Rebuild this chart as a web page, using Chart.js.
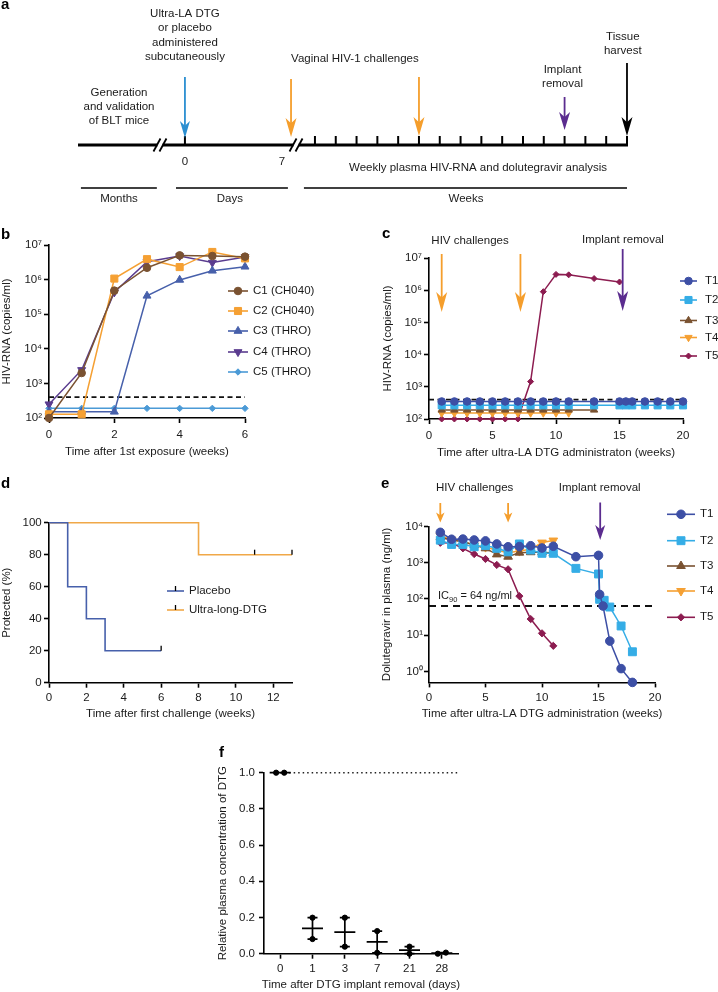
<!DOCTYPE html>
<html><head><meta charset="utf-8">
<script src="https://cdn.jsdelivr.net/npm/chart.js@4.4.1/dist/chart.umd.min.js"></script>
<style>
html,body{margin:0;padding:0;background:#fff;}
body{width:718px;height:992px;position:relative;overflow:hidden;font-family:'Liberation Sans',Arial,Helvetica,sans-serif;}
.pn{position:absolute;}
.pn canvas{display:block;}
.lbl{position:absolute;font-weight:bold;font-size:15px;line-height:15px;color:#000;}
</style></head><body>
<div class="pn" style="left:0;top:0;width:718px;height:222px"><canvas id="ca" width="718" height="222"></canvas></div>
<div class="pn" style="left:0;top:225px;width:358px;height:245px"><canvas id="cb" width="358" height="245"></canvas></div>
<div class="pn" style="left:358px;top:225px;width:360px;height:245px"><canvas id="cc" width="360" height="245"></canvas></div>
<div class="pn" style="left:0;top:470px;width:358px;height:250px"><canvas id="cd" width="358" height="250"></canvas></div>
<div class="pn" style="left:358px;top:470px;width:360px;height:250px"><canvas id="ce" width="360" height="250"></canvas></div>
<div class="pn" style="left:180px;top:740px;width:300px;height:252px"><canvas id="cf" width="300" height="252"></canvas></div>
<div class="lbl" style="left:1px;top:-4px">a</div>
<div class="lbl" style="left:1px;top:226px">b</div>
<div class="lbl" style="left:382px;top:225px">c</div>
<div class="lbl" style="left:1px;top:475px">d</div>
<div class="lbl" style="left:381px;top:475px">e</div>
<div class="lbl" style="left:219px;top:744px">f</div>
<script>
// ================= DATA =================
// Panel a: weekly sampling ticks (week index after the second break)
const aWeekTicks = [0,1,2,3,4,5,6,7,8,9,10,11,12,13,14,15];

// Panel b: HIV-RNA (copies/ml) in control mice
const bWeeks = [0,1,2,3,4,5,6];
const bC1 = [100, 2000, 480000, 2200000, 5000000, 4800000, 4600000];
const bC2 = [128, 128, 1070000, 3900000, 2300000, 6300000, 4100000];
const bC3 = [151, 151, 151, 340000, 980000, 1800000, 2350000];
const bC4 = [250, 2450, 430000, 3300000, 4800000, 3100000, 4500000];
const bC5 = [190, 190, 190, 190, 190, 190, 190];
const bLimit = 400;
const bXTicks = [0,2,4,6];
const logTicksRNA = [1e2,1e3,1e4,1e5,1e6,1e7];

// Panel c: HIV-RNA in treated mice
const cT1Weeks = [1,2,3,4,5,6,7,8,9,10,11,13,15,15.5,16,17,18,19,20];
const cT1 = [350,350,350,350,350,350,350,350,350,350,350,350,350,350,350,350,350,350,350];
const cT2Weeks = [1,2,3,4,5,6,7,8,9,10,11,13,15,15.5,16,17,18,19,20];
const cT2 = [265,265,265,265,265,265,265,265,265,265,265,265,265,265,265,265,265,265,265];
const cT3Weeks = [1,2,3,4,5,6,7,8,9,10,11,13];
const cT3 = [190,190,190,190,190,190,190,190,190,190,190,190];
const cT4Weeks = [1,2,3,4,5,6,7,8,9,10,11];
const cT4 = [153,153,153,153,153,153,153,153,153,153,153];
const cT5Weeks = [1,2,3,4,5,6,7,8,9,10,11,13,15];
const cT5 = [100,100,100,100,100,100,100,1450,900000,3100000,3000000,2300000,1800000];
const cLimit = 400;
const cXTicks = [0,5,10,15,20];
const cChallengeWeeks = [1, 7.2];
const cRemovalWeek = 15.25;

// Panel d: Kaplan-Meier protection
const dPlaceboT = [0,1,2,3,6];
const dPlaceboS = [100,60,40,20,20];
const dPlaceboCensorT = [6];
const dPlaceboCensorS = [20];
const dDtgT = [0,8,13];
const dDtgS = [100,80,80];
const dDtgCensorT = [11,13];
const dDtgCensorS = [80,80];
const dXTicks = [0,2,4,6,8,10,12];
const dYTicks = [0,20,40,60,80,100];

// Panel e: dolutegravir in plasma (ng/ml)
const eT1Weeks = [1,2,3,4,5,6,7,8,9,10,11,13,15,15.1,15.4,16,17,18];
const eT1 = [6900,4450,4500,4250,4000,3300,2760,2800,2950,2550,2850,1470,1600,134,64,6.9,1.2,0.5];
const eT2Weeks = [1,2,3,4,5,6,7,8,9,10,11,13,15,15.1,15.5,16,17,18];
const eT2 = [4200,3200,3200,2760,3000,2500,2000,3300,2240,1820,1820,700,490,98,92,60,18,3.5];
const eT3Weeks = [1,2,3,4,5,6,7,8,9,10,11];
const eT3 = [5000,4250,3800,3100,2500,1700,1470,1900,1950,1950,1850];
const eT4Weeks = [1,2,3,4,5,6,7,8,9,10,11];
const eT4 = [5600,4300,4000,3000,2700,2200,1900,2100,2350,3600,4100];
const eT5Weeks = [1,2,3,4,5,6,7,8,9,10,11];
const eT5 = [3550,3500,2500,1740,1270,870,660,120,28,11.3,5.1];
const eIC90 = 64;
const eXTicks = [0,5,10,15,20];
const eYTicks = [1,10,100,1000,10000];
const eChallengeWeeks = [1, 7];
const eRemovalWeek = 15.15;

// Panel f: relative plasma concentration after implant removal
const fDays = ['0','1','3','7','21','28'];
const fMouseA = [1.0, 0.199, 0.199, 0.125, 0.039, 0.0];
const fMouseB = [1.0, 0.081, 0.039, 0.005, 0.0, 0.006];
const fYTicks = [0,0.2,0.4,0.6,0.8,1.0];

// ================= STYLE / HELPERS =================
const FONT = "'Liberation Sans', Arial, Helvetica, sans-serif";
Chart.defaults.font.family = FONT;
Chart.defaults.font.size = 11.5;
Chart.defaults.color = '#1a1a1a';
Chart.defaults.animation = false;

const COL = {
  brown:'#7a5231', orange:'#f5a033', blue:'#4760ab', purple:'#5a3c8f', sky:'#4b9ad6',
  navy:'#3d4fa5', cyan:'#35ade6', crimson:'#8c1c50', arrowBlue:'#2b8fd1', arrowOrange:'#f59e2c',
  arrowPurple:'#5b2c8f', dOrange:'#f0a848'
};

const SUP = {'0':'⁰','1':'¹','2':'²','3':'³','4':'⁴','5':'⁵','6':'⁶','7':'⁷','8':'⁸','9':'⁹','-':'⁻'};
function pow10Label(v){ const e = Math.round(Math.log10(v)); return '10' + String(e).split('').map(c=>SUP[c]).join(''); }
function setTicks(vals){ return s => { s.ticks = vals.map(v=>({value:v})); }; }
function pts(xs, ys){ return xs.map((x,i)=>({x:x, y:ys[i]})); }

function axis(o) {
  const a = {
    border:{display:true, color:'#000', width:1.6},
    grid:{display:true, drawOnChartArea:false, drawTicks:true, tickLength:5, tickWidth:1.6, tickColor:'#000'},
    ticks:{color:'#1a1a1a', font:{size:11.5}, autoSkip:false, maxRotation:0, minRotation:0, padding:o.pad},
    title:{display:false}
  };
  a.type = o.type; a.min = o.min; a.max = o.max;
  a.afterBuildTicks = setTicks(o.ticks);
  if (o.cb) a.ticks.callback = o.cb;
  if (o.w !== undefined) a.afterFit = s => { s.width = o.w; };
  if (o.h !== undefined) a.afterFit = s => { s.height = o.h; };
  return a;
}

function marker(ctx, style, x, y, r, rot, color) {
  ctx.save(); ctx.fillStyle = color; ctx.strokeStyle = color; ctx.lineWidth = 1;
  ctx.beginPath();
  let rad = (rot||0) * Math.PI/180;
  if (style === 'circle') ctx.arc(x,y,r,0,Math.PI*2);
  else if (style === 'rect') { const s = r*Math.SQRT1_2; ctx.rect(x-s,y-s,2*s,2*s); }
  else if (style === 'triangle') {
    for (let k=0;k<3;k++){ const px = x + Math.sin(rad)*r, py = y - Math.cos(rad)*r; if(k===0) ctx.moveTo(px,py); else ctx.lineTo(px,py); rad += 2*Math.PI/3; }
    ctx.closePath();
  } else if (style === 'rectRot') { ctx.moveTo(x-r,y); ctx.lineTo(x,y-r); ctx.lineTo(x+r,y); ctx.lineTo(x,y+r); ctx.closePath(); }
  ctx.fill(); ctx.stroke(); ctx.restore();
}

function arrow(ctx, x, y1, y2, color, hl, hw, lw) {
  ctx.save(); ctx.strokeStyle = color; ctx.fillStyle = color; ctx.lineWidth = lw;
  ctx.beginPath(); ctx.moveTo(x, y1); ctx.lineTo(x, y2 - hl*0.5); ctx.stroke();
  ctx.beginPath(); ctx.moveTo(x, y2); ctx.lineTo(x - hw/2, y2 - hl); ctx.lineTo(x, y2 - hl*0.72); ctx.lineTo(x + hw/2, y2 - hl); ctx.closePath(); ctx.fill();
  ctx.restore();
}

function text(ctx, s, x, y, align, size) {
  ctx.save(); ctx.fillStyle = '#1a1a1a'; ctx.font = (size||11.5) + 'px ' + FONT;
  ctx.textAlign = align || 'center'; ctx.textBaseline = 'middle'; ctx.fillText(s, x, y); ctx.restore();
}

function makeExtras(cfg) {
  return {
    id: 'extras',
    afterDatasetsDraw(chart) {
      const ctx = chart.ctx, ca = chart.chartArea;
      const X = chart.scales.x, Y = chart.scales.y;
      ctx.save();
      if (cfg.draw) cfg.draw(chart, ctx, X, Y);
      if (cfg.legend) {
        const L = cfg.legend;
        L.items.forEach((it, i) => {
          const y = L.rows[i];
          ctx.save(); ctx.strokeStyle = it.color; ctx.lineWidth = 1.6;
          ctx.beginPath(); ctx.moveTo(L.x1, y); ctx.lineTo(L.x2, y); ctx.stroke(); ctx.restore();
          const cx = (L.x1 + L.x2)/2;
          if (it.style === 'censor') {
            ctx.save(); ctx.strokeStyle = '#000'; ctx.lineWidth = 1.3;
            ctx.beginPath(); ctx.moveTo(cx, y); ctx.lineTo(cx, y-5); ctx.stroke(); ctx.restore();
          } else marker(ctx, it.style, cx, y, it.r * (L.scale||1), it.rot, it.color);
          text(ctx, it.label, L.tx, y, 'left');
        });
      }
      if (cfg.xTitle) text(ctx, cfg.xTitle.text, (ca.left+ca.right)/2, cfg.xTitle.y, 'center');
      if (cfg.yTitle) {
        ctx.save(); ctx.translate(cfg.yTitle.x, (ca.top+ca.bottom)/2); ctx.rotate(-Math.PI/2);
        text(ctx, cfg.yTitle.text, 0, 0, 'center'); ctx.restore();
      }
      ctx.restore();
    }
  };
}

function series(label, xs, ys, st) {
  return {
    label: label, data: pts(xs, ys), borderColor: st.color, backgroundColor: st.color, borderWidth: 1.5,
    pointStyle: st.style, pointRadius: st.r, pointHoverRadius: st.r, pointRotation: st.rot||0,
    pointBackgroundColor: st.color, pointBorderColor: st.color, pointBorderWidth: 1,
    tension: 0, clip: false, fill: false
  };
}
function refLine(x0, x1, y, dash, color, w) {
  return { label: '', data: [{x:x0,y:y},{x:x1,y:y}], borderColor: color||'#111', borderWidth: w||1.6,
    borderDash: dash, pointRadius: 0, pointHoverRadius: 0, tension: 0, clip: false, fill: false };
}
function baseOpts(padding, scales) {
  return { responsive:false, maintainAspectRatio:false, animation:false, events:[],
    layout:{padding: padding}, plugins:{legend:{display:false}, tooltip:{enabled:false}, title:{display:false}},
    scales: scales };
}

// ================= PANEL a =================
(function(){
  // diagram units: 1 unit = one weekly tick spacing; 0 = first weekly tick
  const L = {
    lineY:145, tickTop:136, periodY:188, periodLabelY:199,
    start:-11.39, end:15, breaks:[-7.45,-0.91], day0:-6.25, day7:-1.15,
    challengeWeek:5, removalWeek:12, harvestWeek:15,
    months:[-11.25,-7.6], days:[-6.68,-1.3], weeks:[-0.53,15]
  };
  function draw(chart, ctx, X, Y) {
    const px = v => X.getPixelForValue(v), py = v => Y.getPixelForValue(v);
    ctx.strokeStyle = '#000'; ctx.lineCap = 'butt';
    ctx.lineWidth = 3;
    ctx.beginPath(); ctx.moveTo(px(L.start), py(L.lineY)); ctx.lineTo(px(L.end)+1, py(L.lineY)); ctx.stroke();
    ctx.lineWidth = 2;
    [L.day0].concat(aWeekTicks).forEach(u => {
      ctx.beginPath(); ctx.moveTo(px(u), py(L.tickTop)); ctx.lineTo(px(u), py(L.lineY)); ctx.stroke();
    });
    L.breaks.forEach(b => {
      const x = px(b), y = py(L.lineY);
      ctx.fillStyle = '#fff'; ctx.fillRect(x-2.6, y-3, 5.2, 6);
      ctx.strokeStyle = '#000'; ctx.lineWidth = 1.8;
      [-3,3].forEach(d => { ctx.beginPath(); ctx.moveTo(x+d-3.5, y+6.5); ctx.lineTo(x+d+3.5, y-6.5); ctx.stroke(); });
    });
    arrow(ctx, px(L.day0), py(77), py(138), COL.arrowBlue, 17, 10, 1.8);
    arrow(ctx, px(L.day7), py(79), py(137), COL.arrowOrange, 19, 11, 1.8);
    arrow(ctx, px(L.challengeWeek), py(77), py(136), COL.arrowOrange, 19, 11, 1.8);
    arrow(ctx, px(L.removalWeek), py(97), py(130), COL.arrowPurple, 18, 11, 1.8);
    arrow(ctx, px(L.harvestWeek), py(63), py(136), '#000', 19, 11, 1.8);
    ctx.lineWidth = 1.6; ctx.strokeStyle = '#000';
    [L.months, L.days, L.weeks].forEach(s => { ctx.beginPath(); ctx.moveTo(px(s[0]), py(L.periodY)); ctx.lineTo(px(s[1]), py(L.periodY)); ctx.stroke(); });
    ['Ultra-LA DTG','or placebo','administered','subcutaneously'].forEach((s,i)=>text(ctx, s, px(L.day0), py(14+i*14.3)));
    ['Generation','and validation','of BLT mice'].forEach((s,i)=>text(ctx, s, px(-9.42), py(93+i*14)));
    text(ctx, 'Vaginal HIV-1 challenges', px(1.92), py(59));
    ['Implant','removal'].forEach((s,i)=>text(ctx, s, px(11.9), py(70+i*14)));
    ['Tissue','harvest'].forEach((s,i)=>text(ctx, s, px(14.8), py(37+i*14)));
    text(ctx, '0', px(L.day0), py(162));
    text(ctx, '7', px(-1.59), py(162));
    text(ctx, 'Weekly plasma HIV-RNA and dolutegravir analysis', px(7.84), py(168));
    text(ctx, 'Months', px(-9.42), py(L.periodLabelY));
    text(ctx, 'Days', px(-4.09), py(L.periodLabelY));
    text(ctx, 'Weeks', px(7.26), py(L.periodLabelY));
  }
  new Chart(document.getElementById('ca'), {
    type:'scatter', data:{datasets:[]},
    options: baseOpts(0, { x:{type:'linear', display:false, min:-15.14, max:19.375}, y:{type:'linear', display:false, min:0, max:222, reverse:true} }),
    plugins:[makeExtras({draw:draw})]
  });
})();

// ================= PANEL b =================
(function(){
  const st = [
    {label:'C1 (CH040)', color:COL.brown, style:'circle', r:3.8},
    {label:'C2 (CH040)', color:COL.orange, style:'rect', r:5},
    {label:'C3 (THRO)', color:COL.blue, style:'triangle', r:4.6},
    {label:'C4 (THRO)', color:COL.purple, style:'triangle', r:4.6, rot:180},
    {label:'C5 (THRO)', color:COL.sky, style:'rectRot', r:3.2}
  ];
  const vals = [bC1,bC2,bC3,bC4,bC5];
  const datasets = st.map((s,i)=>series(s.label, bWeeks, vals[i], s));
  datasets.push(refLine(0, 6, bLimit, [5,3.5]));
  new Chart(document.getElementById('cb'), {
    type:'line', data:{datasets:datasets},
    options: baseOpts({left:0, top:20, right:113, bottom:0}, {
      x: axis({type:'linear', min:0, max:6, ticks:bXTicks, pad:5, h:52}),
      y: axis({type:'logarithmic', min:100, max:1e7, ticks:logTicksRNA, pad:2, w:49, cb:pow10Label})
    }),
    plugins:[makeExtras({
      legend:{x1:228, x2:248, tx:253, rows:[66,86,106,127,147], items:st},
      xTitle:{text:'Time after 1st exposure (weeks)', y:227},
      yTitle:{text:'HIV-RNA (copies/ml)', x:7}
    })]
  });
})();

// ================= PANEL c =================
(function(){
  const st = [
    {label:'T1', color:COL.navy, style:'circle', r:3.8},
    {label:'T2', color:COL.cyan, style:'rect', r:5},
    {label:'T3', color:COL.brown, style:'triangle', r:4.2},
    {label:'T4', color:COL.orange, style:'triangle', r:4.2, rot:180},
    {label:'T5', color:COL.crimson, style:'rectRot', r:3}
  ];
  const xs = [cT1Weeks,cT2Weeks,cT3Weeks,cT4Weeks,cT5Weeks];
  const vals = [cT1,cT2,cT3,cT4,cT5];
  const datasets = st.map((s,i)=>series(s.label, xs[i], vals[i], s));
  datasets.push(refLine(0, 20, cLimit, [5,3.5]));
  function draw(chart, ctx, X, Y) {
    cChallengeWeeks.forEach(w => arrow(ctx, X.getPixelForValue(w), 29, 87, COL.arrowOrange, 20, 11, 1.8));
    arrow(ctx, X.getPixelForValue(cRemovalWeek), 24, 86, COL.arrowPurple, 20, 11, 1.8);
    text(ctx, 'HIV challenges', 112, 16);
    text(ctx, 'Implant removal', 265, 15);
  }
  new Chart(document.getElementById('cc'), {
    type:'line', data:{datasets:datasets},
    options: baseOpts({left:0, top:33, right:35, bottom:0}, {
      x: axis({type:'linear', min:0, max:20, ticks:cXTicks, pad:5, h:51}),
      y: axis({type:'logarithmic', min:100, max:1e7, ticks:logTicksRNA, pad:2, w:71, cb:pow10Label})
    }),
    plugins:[makeExtras({
      draw:draw,
      legend:{x1:322, x2:339, tx:347, rows:[56,75,95.5,112.5,131], items:st},
      xTitle:{text:'Time after ultra-LA DTG administraton (weeks)', y:228.3},
      yTitle:{text:'HIV-RNA (copies/ml)', x:30}
    })]
  });
})();

// ================= PANEL d =================
(function(){
  const placebo = {label:'Placebo', data:pts(dPlaceboT, dPlaceboS), borderColor:COL.blue, borderWidth:1.6, stepped:'before', pointRadius:0, clip:false, fill:false};
  const dtg = {label:'Ultra-long-DTG', data:pts(dDtgT, dDtgS), borderColor:COL.dOrange, borderWidth:1.6, stepped:'before', pointRadius:0, clip:false, fill:false};
  function draw(chart, ctx, X, Y) {
    ctx.save(); ctx.strokeStyle = '#000'; ctx.lineWidth = 1.3;
    const cens = [[dPlaceboCensorT, dPlaceboCensorS],[dDtgCensorT, dDtgCensorS]];
    cens.forEach(c => c[0].forEach((t,i) => {
      const x = X.getPixelForValue(t), y = Y.getPixelForValue(c[1][i]);
      ctx.beginPath(); ctx.moveTo(x, y); ctx.lineTo(x, y-5); ctx.stroke();
    }));
    ctx.restore();
  }
  new Chart(document.getElementById('cd'), {
    type:'line', data:{datasets:[placebo, dtg]},
    options: baseOpts({left:0, top:52.7, right:66, bottom:0}, {
      x: axis({type:'linear', min:0, max:13, ticks:dXTicks, pad:3.4, h:37.3}),
      y: axis({type:'linear', min:0, max:100, ticks:dYTicks, pad:2.3, w:49})
    }),
    plugins:[makeExtras({
      draw:draw,
      legend:{x1:167, x2:184, tx:189, rows:[121,140], items:[
        {label:'Placebo', color:COL.blue, style:'censor'},
        {label:'Ultra-long-DTG', color:COL.dOrange, style:'censor'}]},
      xTitle:{text:'Time after first challenge (weeks)', y:244.3},
      yTitle:{text:'Protected (%)', x:7}
    })]
  });
})();

// ================= PANEL e =================
(function(){
  const st = [
    {label:'T1', color:COL.navy, style:'circle', r:4.3},
    {label:'T2', color:COL.cyan, style:'rect', r:5.6},
    {label:'T3', color:COL.brown, style:'triangle', r:5},
    {label:'T4', color:COL.orange, style:'triangle', r:5, rot:180},
    {label:'T5', color:COL.crimson, style:'rectRot', r:3.6}
  ];
  const xs = [eT1Weeks,eT2Weeks,eT3Weeks,eT4Weeks,eT5Weeks];
  const vals = [eT1,eT2,eT3,eT4,eT5];
  const datasets = st.map((s,i)=>series(s.label, xs[i], vals[i], s));
  datasets.push(refLine(0, 20, eIC90, [7,5], '#111', 1.8));
  function draw(chart, ctx, X, Y) {
    eChallengeWeeks.forEach(w => arrow(ctx, X.getPixelForValue(w), 33, 52.5, COL.arrowOrange, 10, 8.5, 1.8));
    arrow(ctx, X.getPixelForValue(eRemovalWeek), 32.5, 70, COL.arrowPurple, 15, 10, 1.8);
    text(ctx, 'HIV challenges', 116.7, 18.3);
    text(ctx, 'Implant removal', 241.7, 18);
    // IC90 label with subscript
    const yl = 126;
    ctx.save(); ctx.fillStyle = '#1a1a1a'; ctx.textBaseline = 'middle'; ctx.textAlign = 'left';
    ctx.font = '11px ' + FONT; let x = 80; ctx.fillText('IC', x, yl); x += ctx.measureText('IC').width;
    ctx.font = '7.5px ' + FONT; ctx.fillText('90', x, yl + 3.5); x += ctx.measureText('90').width;
    ctx.font = '11px ' + FONT; ctx.fillText(' = 64 ng/ml', x, yl);
    ctx.restore();
  }
  new Chart(document.getElementById('ce'), {
    type:'line', data:{datasets:datasets},
    options: baseOpts({left:0, top:56.5, right:63, bottom:0}, {
      x: axis({type:'linear', min:0, max:20, ticks:eXTicks, pad:3.7, h:37.6}),
      y: axis({type:'logarithmic', min:0.5, max:1e4, ticks:eYTicks, pad:1, w:71, cb:pow10Label})
    }),
    plugins:[makeExtras({
      draw:draw,
      legend:{x1:309, x2:337, tx:342, rows:[44.3,70.7,96,121,147.3], items:st},
      xTitle:{text:'Time after ultra-LA DTG administration (weeks)', y:244.3},
      yTitle:{text:'Dolutegravir in plasma (ng/ml)', x:29}
    })]
  });
})();

// ================= PANEL f =================
(function(){
  const points = [];
  fDays.forEach((d,i) => {
    const jit = Math.abs(fMouseA[i]-fMouseB[i]) < 0.02 ? 0.125 : 0;
    points.push({x:i-jit, y:fMouseA[i]}, {x:i+jit, y:fMouseB[i]});
  });
  const scatter = {label:'mice', data:points, showLine:false, pointRadius:2.6, pointHoverRadius:2.6,
    pointBackgroundColor:'#000', pointBorderColor:'#000', borderColor:'#000', clip:false};
  const dotted = refLine(0, 5.5, 1.0, [1.5,3], '#222', 1.4);
  function draw(chart, ctx, X, Y) {
    ctx.save(); ctx.strokeStyle = '#000'; ctx.lineWidth = 1.7;
    fDays.forEach((d,i) => {
      const lo = Math.min(fMouseA[i], fMouseB[i]), hi = Math.max(fMouseA[i], fMouseB[i]);
      const mean = (fMouseA[i] + fMouseB[i]) / 2;
      const x = X.getPixelForValue(i), yl = Y.getPixelForValue(lo), yh = Y.getPixelForValue(hi), ym = Y.getPixelForValue(mean);
      ctx.beginPath();
      ctx.moveTo(x, yl); ctx.lineTo(x, yh);
      ctx.moveTo(x-5, yl); ctx.lineTo(x+5, yl);
      ctx.moveTo(x-5, yh); ctx.lineTo(x+5, yh);
      ctx.moveTo(x-10.5, ym); ctx.lineTo(x+10.5, ym);
      ctx.stroke();
    });
    ctx.restore();
  }
  new Chart(document.getElementById('cf'), {
    type:'line', data:{datasets:[scatter, dotted]},
    options: baseOpts({left:0, top:32.7, right:22, bottom:0}, {
      x: axis({type:'linear', min:-0.5, max:5.5, ticks:[0,1,2,3,4,5], pad:3, h:38.3, cb:v => fDays[v]}),
      y: axis({type:'linear', min:0, max:1.0, ticks:fYTicks, pad:4, w:84, cb:v => v.toFixed(1)})
    }),
    plugins:[makeExtras({
      draw:draw,
      xTitle:{text:'Time after DTG implant removal (days)', y:245},
      yTitle:{text:'Relative plasma concentration of DTG', x:43}
    })]
  });
})();
</script>
</body></html>
